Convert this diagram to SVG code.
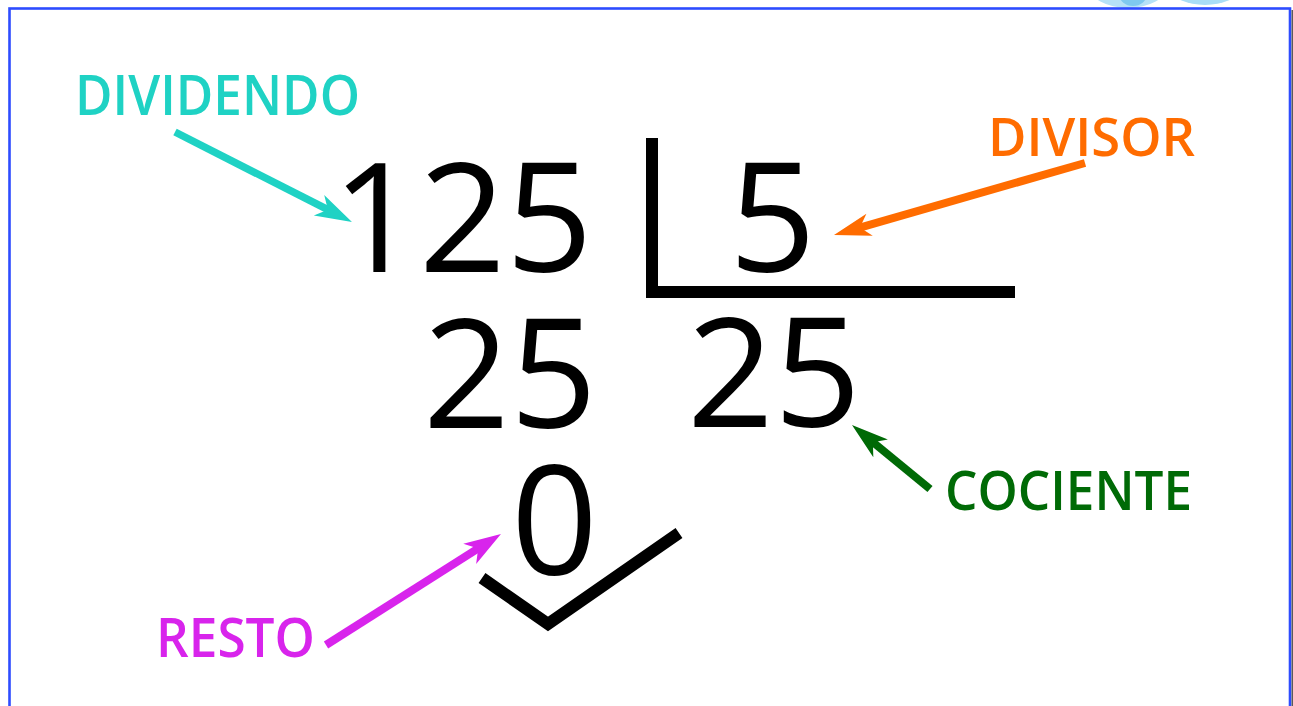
<svg xmlns="http://www.w3.org/2000/svg" width="1293" height="706" viewBox="0 0 1293 706">
  <defs>
    <style>
      .num { font-family: "Open Sans", "Noto Sans", sans-serif; font-size: 152px; fill: #000; }
      .lbl { font-family: "Open Sans", "Noto Sans", sans-serif; font-weight: 600; }
      .shaft { fill: none; stroke-linecap: butt; }
      .mark { fill: none; stroke: #000; stroke-width: 12; stroke-linejoin: miter; stroke-linecap: butt; }
    </style>
    <marker id="hTeal" markerUnits="userSpaceOnUse" orient="auto" overflow="visible" markerWidth="1" markerHeight="1">
      <path d="M26,0 L-11,-11.5 L-1,0 L-11,11.5 Z" fill="#1fd2c4"/>
    </marker>
    <marker id="hOrange" markerUnits="userSpaceOnUse" orient="auto" overflow="visible" markerWidth="1" markerHeight="1">
      <path d="M26,0 L-11,-11.5 L-1,0 L-11,11.5 Z" fill="#ff6c00"/>
    </marker>
    <marker id="hGreen" markerUnits="userSpaceOnUse" orient="auto" overflow="visible" markerWidth="1" markerHeight="1">
      <path d="M26,0 L-11,-11.5 L-1,0 L-11,11.5 Z" fill="#006a06"/>
    </marker>
    <marker id="hPink" markerUnits="userSpaceOnUse" orient="auto" overflow="visible" markerWidth="1" markerHeight="1">
      <path d="M26,0 L-11,-12 L-1,0 L-11,12 Z" fill="#d824ec"/>
    </marker>
    <clipPath id="topClip"><rect x="1050" y="0" width="243" height="8"/></clipPath>
  </defs>

  <rect x="0" y="0" width="1293" height="706" fill="#fff"/>

  <g id="watermark" clip-path="url(#topClip)">
    <ellipse cx="1128" cy="-14" rx="39" ry="22" fill="#b6e2f7"/>
    <ellipse cx="1133" cy="-6" rx="14" ry="12" fill="#7ec9ef"/>
    <ellipse cx="1205" cy="-10" rx="33" ry="15" fill="#a9ddf6"/>
  </g>

  <g id="frame">
    <rect x="9.5" y="8.5" width="1280.5" height="720" fill="none" stroke="#2d4cff" stroke-width="2.6"/>
    <rect x="1291.5" y="10" width="1.5" height="700" fill="#5a5a5a"/>
  </g>

  <g id="dividend"><text class="num" x="332" y="272">125</text></g>
  <g id="divisor"><text class="num" x="729" y="272">5</text></g>
  <g id="bracket"><path class="mark" d="M652,138 V292 H1015"/></g>
  <g id="partial"><text class="num" x="423" y="428">25</text></g>
  <g id="quotient"><text class="num" x="687" y="427">25</text></g>
  <g id="remainder"><text class="num" x="511" y="575">0</text></g>
  <g id="check"><path class="mark" d="M482,578 L548,624 L679,533" stroke-width="11.5"/></g>

  <g id="label-dividendo"><text class="lbl" x="75" y="115" font-size="56" fill="#1fd2c4" textLength="285" lengthAdjust="spacingAndGlyphs">DIVIDENDO</text></g>
  <g id="label-divisor"><text class="lbl" x="988" y="156" font-size="53" fill="#ff6c00" textLength="207" lengthAdjust="spacingAndGlyphs">DIVISOR</text></g>
  <g id="label-cociente"><text class="lbl" x="945" y="510" font-size="54" fill="#006a06" textLength="247" lengthAdjust="spacingAndGlyphs">COCIENTE</text></g>
  <g id="label-resto"><text class="lbl" x="156" y="657" font-size="55" fill="#d824ec" textLength="159" lengthAdjust="spacingAndGlyphs">RESTO</text></g>

  <g id="connectors">
    <path class="shaft" d="M175,132 L328.8,210.2" stroke="#1fd2c4" stroke-width="7.5" marker-end="url(#hTeal)"/>
    <path class="shaft" d="M1085,163 L859,227.8" stroke="#ff6c00" stroke-width="8" marker-end="url(#hOrange)"/>
    <path class="shaft" d="M930,489 L872.1,441.5" stroke="#006a06" stroke-width="8" marker-end="url(#hGreen)"/>
    <path class="shaft" d="M326,645 L479,547.9" stroke="#d824ec" stroke-width="8" marker-end="url(#hPink)"/>
  </g>
</svg>
